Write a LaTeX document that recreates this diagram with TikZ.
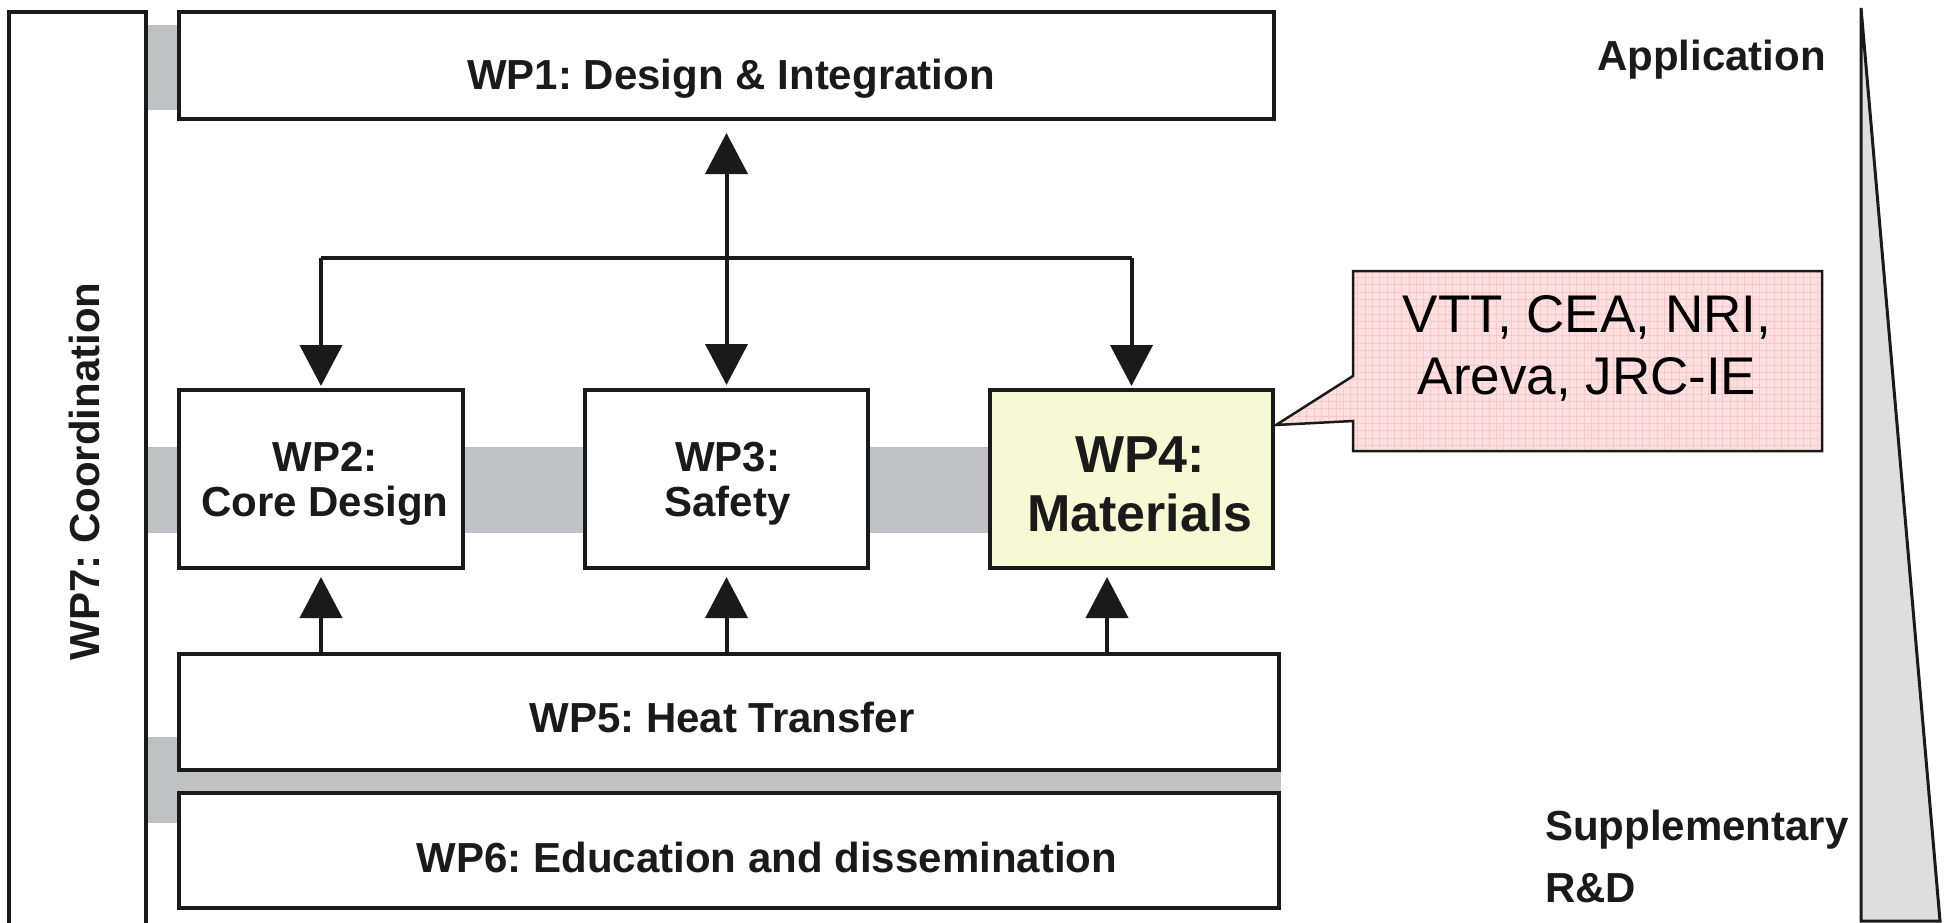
\documentclass[tikz,border=0pt]{standalone}
\usepackage{fontspec}
\setmainfont{Liberation Sans}
\usetikzlibrary{arrows.meta,calc}
\definecolor{linec}{HTML}{1A1A1A}
\definecolor{bandc}{HTML}{C0C1C4}
\definecolor{wpfour}{HTML}{F5FAD4}
\definecolor{pinkc}{HTML}{FFDFDF}
\definecolor{pinkgrid}{HTML}{F7CACA}
\definecolor{wedgec}{HTML}{DEDEDE}
\frenchspacing
\begin{document}
\begin{tikzpicture}[x=1pt,y=-1pt,
  box/.style={draw=linec, line width=4pt, fill=white, inner sep=0pt},
  lbl/.style={font=\bfseries\fontsize{42pt}{45pt}\selectfont, align=center, inner sep=0pt, text=linec},
  biglbl/.style={font=\bfseries\fontsize{52pt}{59pt}\selectfont, align=center, inner sep=0pt, text=linec},
  sidelbl/.style={font=\bfseries\fontsize{42pt}{62pt}\selectfont, align=left, inner sep=0pt, text=linec},
  callt/.style={font=\fontsize{53pt}{62pt}\selectfont, align=center, inner sep=0pt, text=black},
  conn/.style={draw=linec, line width=4pt},
  arr/.style={conn, -{Triangle[width=42pt,length=41pt]}},
  darr/.style={conn, {Triangle[width=42pt,length=41pt]}-{Triangle[width=42pt,length=41pt]}},
  band/.style={fill=bandc, draw=none}
]
\useasboundingbox (0,0) rectangle (1946,923);

% grey connecting bands
\path[band] (146,25) rectangle (177,110);
\path[band] (146,447) rectangle (988,533);
\path[band] (146,737) rectangle (177,823);
\path[band] (177,771) rectangle (1281,791);

% WP7 column (open at the bottom)
\draw[linec, line width=3.5pt] (9,935) -- (9,12) -- (146,12) -- (146,935);
\node[lbl, rotate=90, anchor=base] (wp7) at (99,471.5) {WP7: Coordination};

% work package boxes
\node[box, minimum width=1095pt, minimum height=107pt] (wp1) at (726.5,65.5) {};
\node[lbl, anchor=base] (wp1t) at (731,90) {WP1: Design \& Integration};

\node[box, minimum width=284pt, minimum height=178pt] (wp2) at (321,479) {};
\node[lbl] (wp2t) at (325,483.7) {WP2:\\Core Design};

\node[box, minimum width=283pt, minimum height=178pt] (wp3) at (726.5,479) {};
\node[lbl] (wp3t) at (727.5,483.7) {WP3:\\Safety};

\node[box, fill=wpfour, minimum width=283pt, minimum height=178pt] (wp4) at (1131.5,479) {};
\node[biglbl] (wp4t) at (1140,484) {WP4:\\Materials};

\node[box, minimum width=1100pt, minimum height=116pt] (wp5) at (729,712) {};
\node[lbl, anchor=base] (wp5t) at (722,732) {WP5: Heat Transfer};

\node[box, minimum width=1100pt, minimum height=115pt] (wp6) at (729,850.5) {};
\node[lbl, anchor=base] (wp6t) at (767,872) {WP6: Education and dissemination};

% connectors
\coordinate (busy) at (0,258);
\coordinate (busL) at (wp2.north |- busy);
\coordinate (busR) at (wp4.north |- busy);
\draw[conn] (busL) -- (busR);
\draw[arr, shorten >=2pt] (busL) -- (wp2.north);
\draw[arr, shorten >=2pt] (busR) -- (wp4.north);
\draw[darr, shorten >=3pt] ($(wp1.south)+(0,12)$) -- (wp3.north);

\draw[arr, shorten >=7pt] (wp5.north -| wp2.south) -- (wp2.south);
\draw[arr, shorten >=7pt] (wp5.north -| wp3.south) -- (wp3.south);
\draw[arr, shorten >=7pt] ($(wp5.north -| wp4.south)+(-24.5,0)$) -- ($(wp4.south)+(-24.5,0)$);

% callout
\coordinate (ptip) at (1276,425);
\begin{scope}
  \path[fill=pinkc] (1353,271) -- (1822,271) -- (1822,451) -- (1353,451) -- (1353,421) -- (ptip) -- (1353,376) -- cycle;
  \clip (1353,271) -- (1822,271) -- (1822,451) -- (1353,451) -- (1353,421) -- (ptip) -- (1353,376) -- cycle;
  \draw[pinkgrid, line width=0.8pt, step=7.3pt] (1260,260) grid (1830,460);
\end{scope}
\draw[linec, line width=2.5pt] (1353,271) -- (1822,271) -- (1822,451) -- (1353,451) -- (1353,421) -- (ptip) -- (1353,376) -- cycle;
\node[callt] (vtt) at (1587,348) {VTT, CEA, NRI,\\Areva, JRC-IE};

% right-hand wedge and its labels
\draw[linec, fill=wedgec, line width=3pt] (1861,921) -- (1861,8) -- (1940,921) -- cycle;
\node[lbl, anchor=base east] (app) at (1826,71) {Application};
\node[sidelbl, anchor=north west] (supp) at (1545,810) {Supplementary\\R\&D};
\end{tikzpicture}
\end{document}
